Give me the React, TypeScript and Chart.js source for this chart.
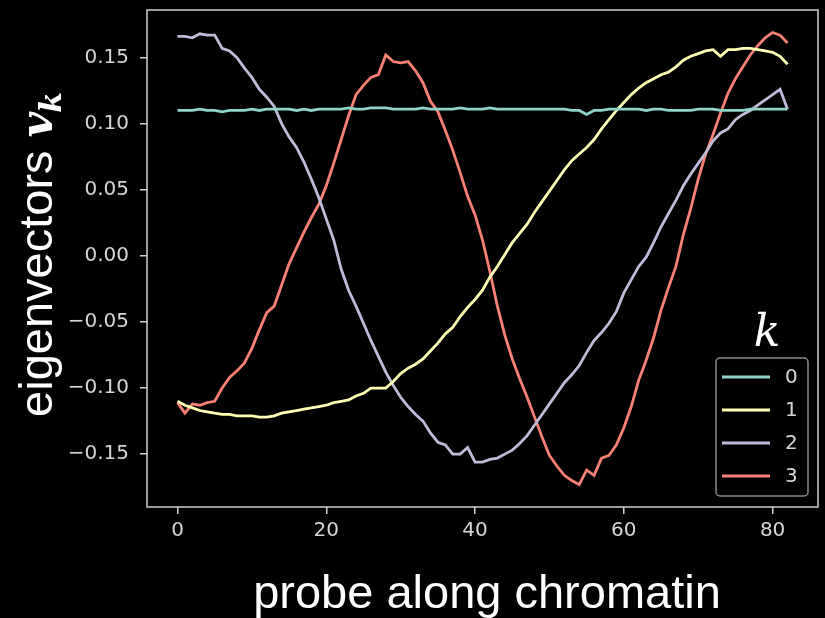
import React, { useEffect, useRef } from "react";
import { Chart, registerables } from "chart.js";

Chart.register(...registerables);

// probe index along chromatin (categories)
const probes: number[] = Array.from({ length: 83 }, (_, i) => i);

const seriesLabels = ["0", "1", "2", "3"];
const seriesColors = ["#8dd3c7", "#feffb3", "#bfbbd9", "#fa8174"];

const k0: number[] = [
  0.110, 0.110, 0.110, 0.111, 0.110, 0.110, 0.109, 0.110, 0.110, 0.110,
  0.111, 0.110, 0.111, 0.111, 0.111, 0.111, 0.110, 0.111, 0.110, 0.111,
  0.111, 0.111, 0.111, 0.112, 0.111, 0.111, 0.112, 0.112, 0.112, 0.111,
  0.111, 0.111, 0.111, 0.112, 0.111, 0.111, 0.111, 0.111, 0.112, 0.111,
  0.111, 0.111, 0.112, 0.111, 0.111, 0.111, 0.111, 0.111, 0.111, 0.111,
  0.111, 0.111, 0.111, 0.110, 0.110, 0.107, 0.110, 0.110, 0.111, 0.111,
  0.111, 0.111, 0.111, 0.110, 0.111, 0.111, 0.110, 0.110, 0.110, 0.110,
  0.111, 0.111, 0.111, 0.110, 0.110, 0.110, 0.110, 0.111, 0.111, 0.111,
  0.111, 0.111, 0.111,
];

const k1: number[] = [
  -0.110, -0.113, -0.115, -0.117, -0.118, -0.119, -0.120, -0.120, -0.121, -0.121,
  -0.121, -0.122, -0.122, -0.121, -0.119, -0.118, -0.117, -0.116, -0.115, -0.114,
  -0.113, -0.111, -0.110, -0.109, -0.106, -0.104, -0.100, -0.100, -0.100, -0.095,
  -0.089, -0.085, -0.082, -0.078, -0.072, -0.066, -0.059, -0.054, -0.046, -0.039,
  -0.033, -0.026, -0.016, -0.008, 0.001, 0.010, 0.017, 0.024, 0.033, 0.041,
  0.049, 0.057, 0.065, 0.072, 0.077, 0.082, 0.088, 0.096, 0.103, 0.110,
  0.116, 0.122, 0.127, 0.131, 0.134, 0.137, 0.139, 0.143, 0.148, 0.151,
  0.153, 0.155, 0.156, 0.151, 0.156, 0.156, 0.157, 0.157, 0.156, 0.155,
  0.154, 0.151, 0.145,
];

const k2: number[] = [
  0.166, 0.166, 0.165, 0.168, 0.167, 0.167, 0.157, 0.155, 0.150, 0.142,
  0.135, 0.126, 0.120, 0.113, 0.100, 0.090, 0.082, 0.071, 0.058, 0.044,
  0.028, 0.012, -0.010, -0.026, -0.038, -0.051, -0.064, -0.076, -0.088, -0.098,
  -0.107, -0.114, -0.120, -0.125, -0.134, -0.141, -0.143, -0.150, -0.150, -0.145,
  -0.156, -0.156, -0.154, -0.153, -0.150, -0.147, -0.142, -0.136, -0.128, -0.120,
  -0.112, -0.104, -0.096, -0.090, -0.083, -0.073, -0.064, -0.058, -0.051, -0.042,
  -0.028, -0.018, -0.008, -0.001, 0.010, 0.022, 0.032, 0.042, 0.053, 0.062,
  0.070, 0.078, 0.087, 0.093, 0.096, 0.103, 0.107, 0.110, 0.114, 0.118,
  0.122, 0.126, 0.111,
];

const k3: number[] = [
  -0.111, -0.119, -0.112, -0.113, -0.111, -0.110, -0.100, -0.092, -0.087, -0.081,
  -0.070, -0.056, -0.043, -0.038, -0.022, -0.006, 0.006, 0.018, 0.029, 0.039,
  0.053, 0.070, 0.088, 0.106, 0.122, 0.129, 0.135, 0.137, 0.152, 0.147,
  0.146, 0.147, 0.140, 0.131, 0.117, 0.109, 0.095, 0.080, 0.063, 0.045,
  0.031, 0.012, -0.012, -0.038, -0.060, -0.078, -0.093, -0.107, -0.122, -0.137,
  -0.151, -0.159, -0.166, -0.170, -0.173, -0.162, -0.166, -0.153, -0.151, -0.143,
  -0.130, -0.114, -0.094, -0.079, -0.062, -0.041, -0.024, -0.008, 0.016, 0.036,
  0.058, 0.077, 0.092, 0.108, 0.123, 0.134, 0.143, 0.152, 0.159, 0.165,
  0.169, 0.167, 0.161,
];

const xTicks = [0, 20, 40, 60, 80];
const yTicks = [-0.15, -0.1, -0.05, 0, 0.05, 0.1, 0.15];

const xLabel = "probe along chromatin";
const yLabelText = "eigenvectors";
const yLabelMath = "v";
const yLabelSub = "k";
const legendTitle = "k";

const TICK_COLOR = "#d6d6d6";
const FRAME_COLOR = "#d0d0d0";

const decorPlugin = {
  id: "decor",
  afterDraw(chart: any) {
    const ctx: CanvasRenderingContext2D = chart.ctx;
    const a = chart.chartArea;
    ctx.save();
    // frame
    ctx.strokeStyle = FRAME_COLOR;
    ctx.lineWidth = 1.5;
    ctx.strokeRect(a.left, a.top, a.right - a.left, a.bottom - a.top);

    // x axis title
    ctx.fillStyle = "#ffffff";
    ctx.font = '47px "Liberation Sans", Arial, sans-serif';
    ctx.textAlign = "center";
    ctx.textBaseline = "alphabetic";
    ctx.fillText(xLabel, 487, 608);

    // y axis title (rotated)
    ctx.save();
    ctx.translate(52, 254);
    ctx.rotate(-Math.PI / 2);
    const f1 = '47px "Liberation Sans", Arial, sans-serif';
    const f2 = 'bold italic 44px "DejaVu Serif", serif';
    const f3 = 'bold italic 30px "DejaVu Serif", serif';
    ctx.font = f1;
    const w1 = ctx.measureText(yLabelText + " ").width;
    ctx.font = f2;
    const w2 = ctx.measureText(yLabelMath).width;
    ctx.font = f3;
    const w3 = ctx.measureText(yLabelSub).width;
    let sx = -(w1 + w2 + w3) / 2;
    ctx.textAlign = "left";
    ctx.font = f1;
    ctx.fillText(yLabelText + " ", sx, 0);
    sx += w1;
    ctx.font = f2;
    ctx.fillText(yLabelMath, sx, 0);
    sx += w2 - 1;
    ctx.font = f3;
    ctx.fillText(yLabelSub, sx, 9);
    ctx.restore();

    // legend
    const lx = 716, ly = 358, lw = 92, lh = 138;
    ctx.fillStyle = "#000000";
    ctx.strokeStyle = "#8a8a8a";
    ctx.lineWidth = 1.5;
    ctx.beginPath();
    (ctx as any).roundRect(lx, ly, lw, lh, 4);
    ctx.fill();
    ctx.stroke();
    const ds = chart.data.datasets;
    ctx.font = '20px "DejaVu Sans", sans-serif';
    ctx.textAlign = "left";
    ctx.textBaseline = "middle";
    for (let i = 0; i < ds.length; i++) {
      const yy = 377 + i * 33;
      ctx.strokeStyle = ds[i].borderColor;
      ctx.lineWidth = 2.8;
      ctx.beginPath();
      ctx.moveTo(722, yy);
      ctx.lineTo(770, yy);
      ctx.stroke();
      ctx.fillStyle = TICK_COLOR;
      ctx.fillText(ds[i].label, 785, yy + 1);
    }
    // legend title
    ctx.fillStyle = "#ffffff";
    ctx.font = 'italic 44px "DejaVu Serif", serif';
    ctx.textAlign = "center";
    ctx.textBaseline = "alphabetic";
    ctx.fillText(legendTitle, 767, 346);
    ctx.restore();
  },
};

export default function App() {
  const ref = useRef<HTMLCanvasElement>(null);
  useEffect(() => {
    if (!ref.current) return;
    const all = [k0, k1, k2, k3];
    const chart = new Chart(ref.current, {
      type: "line",
      data: {
        datasets: all.map((vals, s) => ({
          label: seriesLabels[s],
          data: vals.map((v, i) => ({ x: probes[i], y: v })),
          borderColor: seriesColors[s],
          backgroundColor: seriesColors[s],
          borderWidth: 2.8,
          pointRadius: 0,
          tension: 0,
          fill: false,
        })),
      },
      options: {
        animation: false,
        responsive: false,
        maintainAspectRatio: false,
        layout: { padding: { top: 10, right: 7, left: 0, bottom: 0 } },
        plugins: {
          legend: { display: false },
          tooltip: { enabled: false },
        },
        scales: {
          x: {
            type: "linear",
            min: -4.1,
            max: 86.1,
            afterFit: (s: any) => {
              s.height = 111;
              s.paddingLeft = 0;
              s.paddingRight = 0;
            },
            afterBuildTicks: (s: any) => {
              s.ticks = xTicks.map((v) => ({ value: v }));
            },
            grid: {
              display: true,
              drawOnChartArea: false,
              drawTicks: true,
              tickLength: 7,
              color: FRAME_COLOR,
              lineWidth: 1.5,
            },
            border: { display: false },
            ticks: {
              color: TICK_COLOR,
              font: { family: '"DejaVu Sans"', size: 20 },
              padding: 5,
              maxRotation: 0,
              callback: (v: any) => String(v),
            },
          },
          y: {
            type: "linear",
            min: -0.19,
            max: 0.186,
            afterFit: (s: any) => {
              s.width = 147;
              s.paddingTop = 0;
              s.paddingBottom = 0;
            },
            afterBuildTicks: (s: any) => {
              s.ticks = yTicks.map((v) => ({ value: v }));
            },
            grid: {
              display: true,
              drawOnChartArea: false,
              drawTicks: true,
              tickLength: 7,
              color: FRAME_COLOR,
              lineWidth: 1.5,
            },
            border: { display: false },
            ticks: {
              color: TICK_COLOR,
              font: { family: '"DejaVu Sans"', size: 20 },
              padding: 11,
              callback: (v: any) => {
                const n = Number(v);
                const s = Math.abs(n).toFixed(2);
                return n < -1e-9 ? "\u2212" + s : s;
              },
            },
          },
        },
      },
      plugins: [decorPlugin],
    });
    return () => chart.destroy();
  }, []);

  return (
    <div
      style={{
        position: "fixed",
        left: 0,
        top: 0,
        width: 825,
        height: 618,
        background: "#000000",
        overflow: "hidden",
      }}
    >
      <canvas ref={ref} width={825} height={618} style={{ display: "block" }} />
    </div>
  );
}
